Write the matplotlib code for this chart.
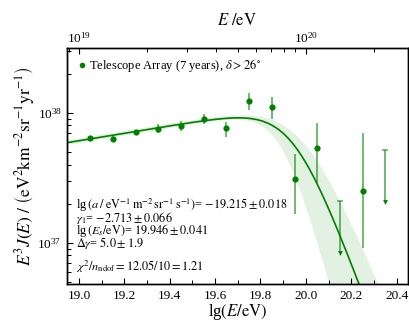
import numpy as np
import matplotlib
matplotlib.use("Agg")
import matplotlib.pyplot as plt
from matplotlib.ticker import MultipleLocator, LogLocator, NullFormatter

plt.rcParams['font.family'] = 'serif'
plt.rcParams['font.serif'] = ['Liberation Serif', 'DejaVu Serif']
plt.rcParams['mathtext.fontset'] = 'stix'

# TA spectrum, lg(E/eV) bin centres and lg(E^3 J)
lgE = [19.05, 19.15, 19.25, 19.35, 19.45, 19.55, 19.65, 19.75, 19.85, 19.95, 20.05, 20.25]
lg_flux = [37.806, 37.801, 37.850, 37.878, 37.901, 37.952, 37.881, 38.093, 38.042, 37.488, 37.728, 37.398]
lg_err_lo = [0.018, 0.018, 0.020, 0.033, 0.041, 0.040, 0.069, 0.071, 0.092, 0.266, 0.266, 0.440]
lg_err_hi = [0.018, 0.018, 0.020, 0.034, 0.038, 0.039, 0.051, 0.059, 0.077, 0.195, 0.196, 0.444]

# upper limits (empty bins)
ul_lgE = [20.15, 20.35]
ul_top = [37.322, 37.714]
ul_tip = [36.918, 37.315]

# fit parameters
lg_a = -19.215
gamma1 = -2.713
lg_Es = 19.946
dgamma = 5.0

# parameter sets bounding the uncertainty band
band_hi = [-19.197, -2.713, 19.982, 4.4]
band_lo = [-19.233, -2.713, 19.894, 6.6]


def e3j(x, lga, g1, lges, dg):
    # broken power law, normalised at 10^19 eV, multiplied by E^3
    return 10 ** (lga + 57) * 10 ** ((3 + g1) * (x - 19)) / (1 + 10 ** (dg * (x - lges)))


fig = plt.figure(figsize=(4.09, 3.23), dpi=100)
ax = fig.add_axes([0.163, 0.1207, 0.8345, 0.7298])

xlim = (18.946, 20.45)
ylim = (10 ** 36.683, 10 ** 38.496)

xx = np.linspace(xlim[0], xlim[1], 400)
ax.fill_between(xx, e3j(xx, *band_lo), e3j(xx, *band_hi), color='#e3f1e3', lw=0, zorder=1)
ax.plot(xx, e3j(xx, lg_a, gamma1, lg_Es, dgamma), color='#008000', lw=1.2, zorder=2)

y = 10 ** np.array(lg_flux)
ylo = y - 10 ** (np.array(lg_flux) - np.array(lg_err_lo))
yhi = 10 ** (np.array(lg_flux) + np.array(lg_err_hi)) - y
ax.errorbar(lgE, y, yerr=[ylo, yhi], fmt='none', ecolor='#008000', alpha=0.6,
            elinewidth=1.3, capsize=0, zorder=3)
ax.plot(lgE, y, 'o', color='#008000', ms=4.5, mec='none', zorder=4,
        label=r'Telescope Array (7 years), $\delta > 26^{\circ}$')

ax.vlines(ul_lgE, 10 ** np.array(ul_tip), 10 ** np.array(ul_top), color='#008000',
          alpha=0.6, lw=1.3, zorder=3)
ax.plot(ul_lgE, 10 ** np.array(ul_top), '_', color='#008000', alpha=0.6, ms=5, mew=1.2, zorder=3)
ax.plot(ul_lgE, 10 ** np.array(ul_tip), 'v', color='#008000', ms=3.5, mec='none', zorder=4)

ax.set_yscale('log')
ax.set_xlim(xlim)
ax.set_ylim(ylim)
ax.xaxis.set_major_locator(MultipleLocator(0.2))
ax.xaxis.set_minor_locator(MultipleLocator(0.1))
ax.xaxis.set_major_formatter(matplotlib.ticker.FormatStrFormatter('%.1f'))
ax.yaxis.set_minor_formatter(NullFormatter())
ax.tick_params(which='both', direction='in', top=False, right=False, labelsize=9.5)
ax.tick_params(which='major', length=4, width=0.8)
ax.tick_params(which='minor', length=3, width=0.7)
ax.tick_params(axis='x', pad=4)
ax.set_xlabel(r'lg$(E/\mathrm{eV})$', fontsize=12, labelpad=0)
ax.set_ylabel(r'$E^3J(E)\ /\ \left(\mathrm{eV}^2\mathrm{km}^{-2}\mathrm{sr}^{-1}\mathrm{yr}^{-1}\right)$',
              fontsize=12.5, labelpad=0)

# energy in eV along the top
ax2 = ax.twiny()
ax2.set_xscale('log')
ax2.set_xlim(10 ** xlim[0], 10 ** xlim[1])
ax2.xaxis.set_major_locator(LogLocator(base=10))
ax2.xaxis.set_minor_locator(LogLocator(base=10, subs=np.arange(2, 10)))
ax2.xaxis.set_minor_formatter(NullFormatter())
ax2.tick_params(which='both', direction='in', labelsize=9.5, pad=2)
ax2.tick_params(which='major', length=4, width=0.8)
ax2.tick_params(which='minor', length=3, width=0.7)
ax2.set_xlabel(r'$E\ /\mathrm{eV}$', fontsize=12, labelpad=4)

for a in (ax, ax2):
    for s in a.spines.values():
        s.set_linewidth(1.0)

ax.legend(loc='upper left', frameon=False, fontsize=9, handletextpad=0.1,
          borderaxespad=0.3, handlelength=1.0, markerscale=0.9)

# fit results, one text block
fit_text = '\n'.join([
    r'lg$\,\left(a\;/\;\mathrm{eV}^{-1}\,\mathrm{m}^{-2}\,\mathrm{sr}^{-1}\,\mathrm{s}^{-1}\right)$= $-19.215 \pm 0.018$',
    r'$\gamma_1$= $-2.713 \pm 0.066$',
    r'lg$\,(E_s/\mathrm{eV})$= $19.946 \pm 0.041$',
    r'$\Delta\gamma$= $5.0 \pm 1.9$',
])
ax.text(0.028, 0.372, fit_text, transform=ax.transAxes, fontsize=8.8, va='top', ha='left',
        linespacing=0.68, zorder=5)
ax.text(0.028, 0.072, r'$\chi^2/n_{\mathrm{ndof}} = 12.05/10 = 1.21$', transform=ax.transAxes,
        fontsize=8.8, va='center', ha='left', zorder=5)

fig.savefig('out.png', dpi=100)
